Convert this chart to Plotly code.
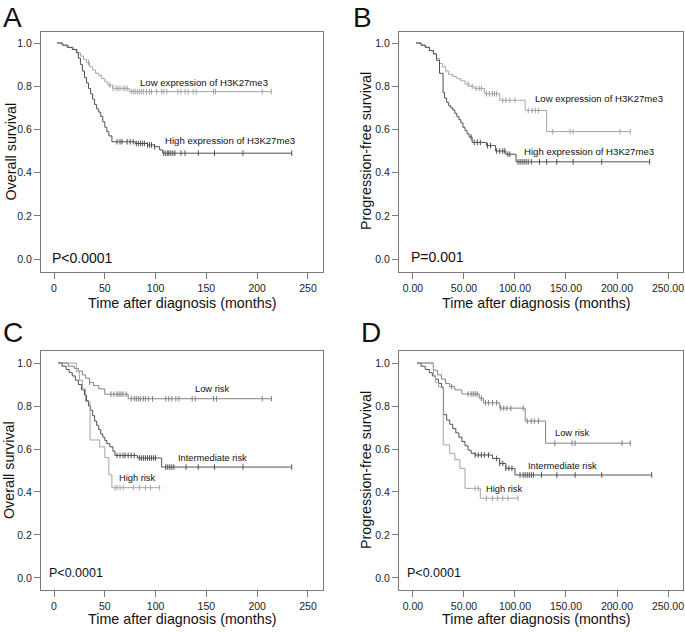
import numpy as np
import plotly.graph_objects as go

W, H = 685, 632

# ---------------- data ----------------
# Panel A: overall survival by H3K27me3 expression
A_low_t = [3, 9, 14, 19, 23, 26, 29, 32, 35, 38, 41, 44, 47, 50, 53, 58, 74]
A_low_s = [1.0, 0.99, 0.98, 0.97, 0.955, 0.94, 0.925, 0.91, 0.89, 0.875, 0.86, 0.85, 0.835, 0.82, 0.805, 0.79, 0.775]
A_low_end = 214
A_low_c = [34, 55, 58, 61, 63, 65, 68, 70, 72, 76, 78, 80, 82, 84, 86, 88, 91, 94, 96, 101, 106, 108, 111,
           122, 125, 129, 132, 137, 140, 157, 159, 205, 214]
A_high_t = [3, 8, 13, 18, 22, 24, 26, 28, 30, 32, 34, 36, 38, 40, 42, 44, 46, 48, 50, 52, 54, 57, 80, 92, 99, 104, 107]
A_high_s = [1.0, 0.99, 0.98, 0.97, 0.955, 0.93, 0.90, 0.87, 0.84, 0.815, 0.79, 0.765, 0.74, 0.715, 0.695, 0.68,
            0.66, 0.635, 0.61, 0.59, 0.57, 0.543, 0.535, 0.528, 0.52, 0.505, 0.49]
A_high_end = 234
A_high_c = [62, 65, 67, 72, 75, 78, 81, 83, 85, 87, 89, 92, 94, 96, 99, 108, 110, 112, 113, 115, 117, 119,
            125, 129, 142, 158, 186, 234]

# Panel B: progression-free survival by H3K27me3 expression
B_low_t = [3, 8, 12, 16, 20, 23, 26, 29, 32, 35, 39, 43, 47, 51, 55, 60, 70, 85, 110, 131]
B_low_s = [1.0, 0.99, 0.98, 0.965, 0.95, 0.93, 0.905, 0.89, 0.87, 0.855, 0.845, 0.835, 0.825, 0.81, 0.80,
           0.79, 0.765, 0.735, 0.688, 0.59]
B_low_end = 213
B_low_c = [54, 58, 62, 65, 67, 72, 75, 78, 80, 82, 88, 91, 95, 100, 113, 117, 120, 123, 137, 154, 157, 203, 213]
B_high_t = [3, 8, 12, 16, 20, 23, 26, 29.5, 31, 33, 35, 37, 39, 41, 43, 45, 47, 49, 51, 53, 55, 58, 72, 81, 91, 101]
B_high_s = [1.0, 0.99, 0.98, 0.965, 0.95, 0.92, 0.86, 0.77, 0.745, 0.725, 0.71, 0.70, 0.69, 0.675, 0.66,
            0.645, 0.63, 0.61, 0.595, 0.58, 0.565, 0.54, 0.525, 0.50, 0.485, 0.45]
B_high_end = 232
B_high_c = [57, 60, 63, 66, 73, 76, 82, 85, 88, 90, 93, 95, 103, 105, 107, 109, 111, 113, 116, 124, 131,
            141, 157, 185, 232]

# Panel C: overall survival by risk group
C_low_t = [4, 14, 20, 24, 28, 31, 35, 39, 44, 50, 73]
C_low_s = [1.0, 0.985, 0.975, 0.963, 0.945, 0.93, 0.91, 0.895, 0.88, 0.855, 0.834]
C_low_end = 214
C_low_c = [35, 56, 59, 62, 64, 66, 68, 71, 76, 79, 81, 83, 85, 88, 90, 93, 97, 110, 113, 116, 120, 123,
           136, 139, 157, 160, 205, 214]
C_int_t = [4, 8, 12, 15, 18, 21, 24, 27, 30, 32, 34, 36, 38, 40, 42, 44, 46, 48, 50, 52, 55, 58, 60, 82, 106]
C_int_s = [1.0, 0.985, 0.97, 0.955, 0.94, 0.92, 0.90, 0.875, 0.85, 0.825, 0.80, 0.78, 0.755, 0.73, 0.71,
           0.69, 0.67, 0.655, 0.64, 0.625, 0.61, 0.59, 0.57, 0.558, 0.516]
C_int_end = 234
C_int_c = [62, 65, 68, 70, 73, 76, 79, 84, 86, 88, 90, 92, 94, 96, 98, 100, 110, 112, 114, 116, 118,
           130, 142, 158, 186, 234]
C_high_t = [4, 22, 25, 28, 31, 35.5, 45, 50, 54, 57]
C_high_s = [1.0, 0.96, 0.92, 0.88, 0.82, 0.642, 0.61, 0.56, 0.48, 0.42]
C_high_end = 104
C_high_c = [60, 62, 65, 68, 78, 84, 90, 95, 104]

# Panel D: progression-free survival by risk group
D_low_t = [4, 20, 24, 28, 32, 36, 41, 48, 65, 69, 85, 110, 130]
D_low_s = [1.0, 0.967, 0.945, 0.925, 0.905, 0.89, 0.875, 0.856, 0.836, 0.815, 0.79, 0.73, 0.627]
D_low_end = 213
D_low_c = [38, 54, 57, 59, 61, 63, 67, 71, 74, 78, 82, 86, 89, 92, 96, 108, 112, 116, 119, 123, 139,
           156, 159, 205, 213]
D_int_t = [4, 8, 12, 16, 19, 22, 25, 28, 30, 33, 36, 39, 42, 45, 48, 51, 54, 57, 61, 78, 85, 91, 100]
D_int_s = [1.0, 0.985, 0.97, 0.955, 0.94, 0.925, 0.905, 0.885, 0.76, 0.735, 0.715, 0.695, 0.675, 0.655,
           0.635, 0.615, 0.595, 0.58, 0.572, 0.556, 0.533, 0.51, 0.479]
D_int_end = 234
D_int_c = [61, 64, 67, 70, 74, 82, 85, 88, 91, 94, 97, 105, 108, 110, 112, 114, 116, 118, 126, 141, 159, 185, 234]
D_high_t = [4, 20, 22, 25, 29.7, 36, 41, 46, 51, 66]
D_high_s = [1.0, 0.94, 0.91, 0.89, 0.619, 0.58, 0.55, 0.51, 0.417, 0.371]
D_high_end = 103
D_high_c = [61, 64, 72, 78, 83, 88, 93, 103]

x_ticks = [0, 50, 100, 150, 200, 250]
x_labels_int = ["0", "50", "100", "150", "200", "250"]
x_labels_dec = ["0.00", "50.00", "100.00", "150.00", "200.00", "250.00"]
y_ticks = [0.0, 0.2, 0.4, 0.6, 0.8, 1.0]
y_labels = ["0.0", "0.2", "0.4", "0.6", "0.8", "1.0"]

# ---------------- styling ----------------
LIGHT = "#a4a4a4"
MID = "#828282"
DARK = "#505050"
FRAME = "#7a7a7a"
FONT = "Liberation Sans, Arial, sans-serif"

fig = go.Figure()


def km(axis_id, t, s, end, cens, color):
    xs = list(t) + [end]
    ys = list(s) + [s[-1]]
    fig.add_trace(go.Scatter(x=xs, y=ys, mode="lines", line=dict(color=color, width=1, shape="hv"),
                             xaxis="x" + axis_id, yaxis="y" + axis_id, showlegend=False, hoverinfo="skip"))
    idx = np.searchsorted(np.array(t, dtype=float), np.array(cens, dtype=float), side="right") - 1
    cy = [s[i] for i in idx]
    fig.add_trace(go.Scatter(x=cens, y=cy, mode="markers",
                             marker=dict(symbol="line-ns-open", size=4, color=color,
                                         line=dict(color=color, width=1)),
                             xaxis="x" + axis_id, yaxis="y" + axis_id, showlegend=False, hoverinfo="skip"))


km("", A_low_t, A_low_s, A_low_end, A_low_c, LIGHT)
km("", A_high_t, A_high_s, A_high_end, A_high_c, DARK)
km("2", B_low_t, B_low_s, B_low_end, B_low_c, LIGHT)
km("2", B_high_t, B_high_s, B_high_end, B_high_c, DARK)
km("3", C_low_t, C_low_s, C_low_end, C_low_c, MID)
km("3", C_int_t, C_int_s, C_int_end, C_int_c, DARK)
km("3", C_high_t, C_high_s, C_high_end, C_high_c, LIGHT)
km("4", D_low_t, D_low_s, D_low_end, D_low_c, MID)
km("4", D_int_t, D_int_s, D_int_end, D_int_c, DARK)
km("4", D_high_t, D_high_s, D_high_end, D_high_c, LIGHT)


def xdom(l, r):
    return [l / W, r / W]


def ydom(top, bot):
    return [1 - bot / H, 1 - top / H]


def xax(dom, rng, labels, anchor):
    return dict(domain=dom, range=rng, anchor=anchor, tickvals=x_ticks, ticktext=labels,
                showline=True, linecolor=FRAME, linewidth=1, mirror=True, ticks="outside",
                ticklen=6, tickcolor=FRAME, tickwidth=1, showgrid=False, zeroline=False,
                tickfont=dict(family=FONT, size=10.5, color="#222"), fixedrange=True)


def yax(dom, rng, anchor):
    return dict(domain=dom, range=rng, anchor=anchor, tickvals=y_ticks, ticktext=y_labels,
                showline=True, linecolor=FRAME, linewidth=1, mirror=True, ticks="outside",
                ticklen=6, tickcolor=FRAME, tickwidth=1, showgrid=False, zeroline=False,
                tickfont=dict(family=FONT, size=10.5, color="#222"), fixedrange=True)


rxA = [-12.8, 264.8]
rxB = [-13.7, 264.7]
ryTop = [-0.06, 1.051]
ryBot = [-0.056, 1.056]

layout = dict(
    width=W, height=H, margin=dict(l=0, r=0, t=0, b=0),
    paper_bgcolor="white", plot_bgcolor="white",
    xaxis=xax(xdom(41, 323), rxA, x_labels_int, "y"),
    yaxis=yax(ydom(32, 272), ryTop, "x"),
    xaxis2=xax(xdom(399, 683), rxB, x_labels_dec, "y2"),
    yaxis2=yax(ydom(32, 272), ryTop, "x2"),
    xaxis3=xax(xdom(41, 323), rxA, x_labels_int, "y3"),
    yaxis3=yax(ydom(351, 590), ryBot, "x3"),
    xaxis4=xax(xdom(399, 683), rxB, x_labels_dec, "y4"),
    yaxis4=yax(ydom(351, 590), ryBot, "x4"),
)
fig.update_layout(**layout)


def note(text, px, py, size, family=FONT, angle=0, xanchor="center"):
    fig.add_annotation(text=text, x=px / W, y=1 - py / H, xref="paper", yref="paper",
                       showarrow=False, xanchor=xanchor, yanchor="middle", textangle=angle,
                       font=dict(family=family, size=size, color="#111"))


# panel letters
note("A", 1, 17, 28, xanchor="left")
note("B", 351, 17, 28, xanchor="left")
note("C", 1, 332, 28, xanchor="left")
note("D", 359, 332, 28, xanchor="left")

# axis titles
for cx, cy in [(182.5, 303), (182.5, 619)]:
    note("Time after diagnosis (months)", cx, cy, 14.3)
for cx, cy in [(536, 303), (536, 619)]:
    note("Time after diagnosis (months)", cx, cy, 14.3)
note("Overall survival", 10, 151.5, 14.3, angle=-90)
note("Overall survival", 9, 470, 14.3, angle=-90)
note("Progression-free survival", 366, 151, 14.3, angle=-90)
note("Progression-free survival", 366, 470, 14.3, angle=-90)

# p values
note("P<0.0001", 82, 257.5, 14)
note("P=0.001", 437.5, 257, 14)
note("P<0.0001", 76, 573, 12.5)
note("P<0.0001", 434, 573, 12.5)

# curve labels
LBL = 9.6
RSK = 9.3
note("Low expression of H3K27me3", 203.5, 82, LBL)
note("High expression of H3K27me3", 229.5, 141, LBL)
note("Low expression of H3K27me3", 599, 99, LBL)
note("High expression of H3K27me3", 588.5, 152, LBL)
note("Low risk", 211.5, 389, RSK)
note("Intermediate risk", 212.5, 458, RSK)
note("High risk", 137, 478, RSK)
note("Low risk", 572, 433, RSK)
note("Intermediate risk", 562.5, 466, RSK)
note("High risk", 504.5, 489, RSK)

fig.write_html("out.html", config={"displayModeBar": False},
               post_script="document.body.style.margin='0px';")
